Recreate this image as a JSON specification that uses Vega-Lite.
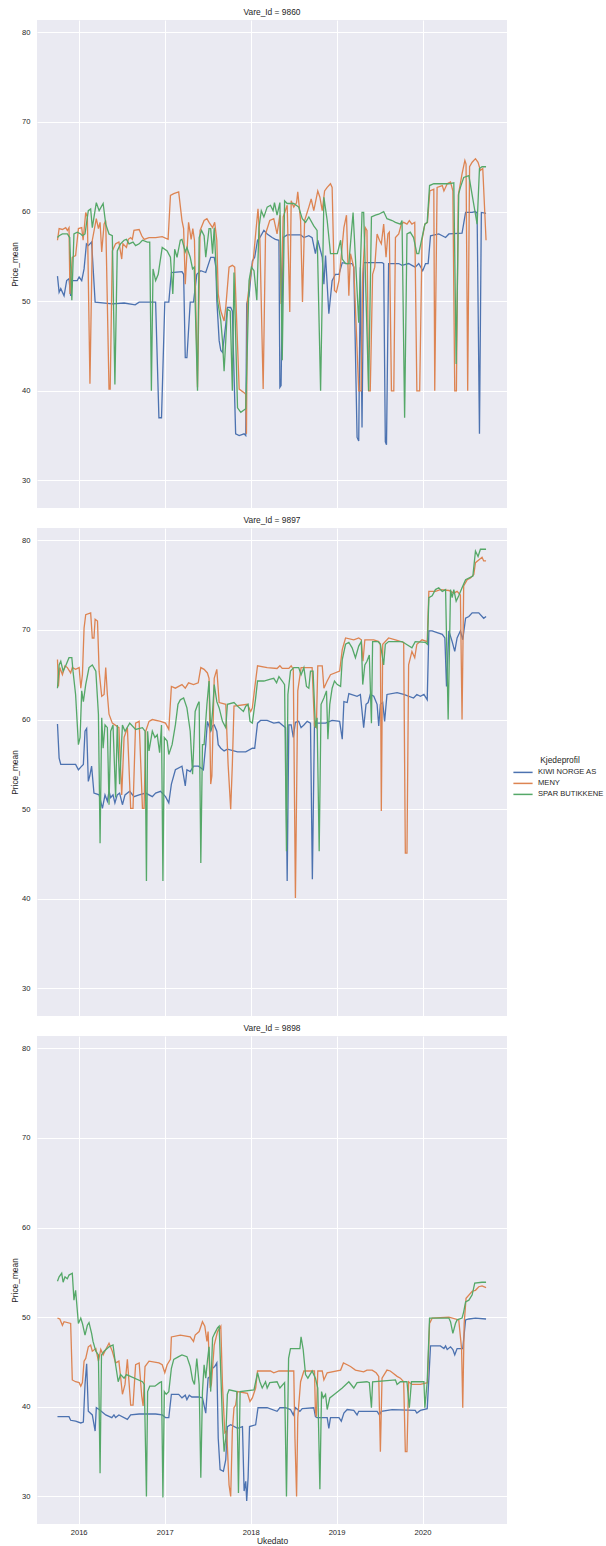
{
"$schema":"https://vega.github.io/schema/vega-lite/v6.json",
"background":"white",
"padding":{"left":10,"top":7,"right":0,"bottom":0},
"config":{
"font":"Liberation Sans",
"view":{"fill":"#EAEAF2","stroke":null},
"axis":{"domain":false,"ticks":false,"gridColor":"white","gridWidth":1,"labelFontSize":7.6,"labelColor":"#262626","titleFontSize":8.4,"titleFontWeight":"normal","titleColor":"#262626"},
"title":{"fontSize":8.4,"fontWeight":"normal","color":"#262626","offset":4},
"legend":{"orient":"none","legendX":479,"legendY":736,"titleFontSize":8.4,"titleFontWeight":"normal","titleColor":"#262626","labelFontSize":7.6,"labelColor":"#262626","symbolType":"M-1.6,0H1.6","symbolSize":144,"symbolStrokeWidth":1.5,"rowPadding":0,"titleAnchor":"middle","titlePadding":1,"labelOffset":8},
"concat":{"spacing":7}
},
"datasets":{
"k9860":[{"d":"2015-10-03","v":52.8},{"d":"2015-10-10","v":51.0},{"d":"2015-10-17","v":51.4},{"d":"2015-10-31","v":50.6},{"d":"2015-11-11","v":52.3},{"d":"2015-11-21","v":52.5},{"d":"2015-11-28","v":50.6},{"d":"2015-12-05","v":52.3},{"d":"2015-12-26","v":52.3},{"d":"2016-01-03","v":52.7},{"d":"2016-01-14","v":52.3},{"d":"2016-01-24","v":53.6},{"d":"2016-02-03","v":56.4},{"d":"2016-02-11","v":56.2},{"d":"2016-02-25","v":56.6},{"d":"2016-03-11","v":49.9},{"d":"2016-05-23","v":49.7},{"d":"2016-07-12","v":49.8},{"d":"2016-08-28","v":49.6},{"d":"2016-09-14","v":49.9},{"d":"2016-11-23","v":49.9},{"d":"2016-12-07","v":37.0},{"d":"2016-12-18","v":37.0},{"d":"2017-01-01","v":49.9},{"d":"2017-01-18","v":49.9},{"d":"2017-01-29","v":53.2},{"d":"2017-03-15","v":53.3},{"d":"2017-03-22","v":53.0},{"d":"2017-03-29","v":43.7},{"d":"2017-04-05","v":43.7},{"d":"2017-04-19","v":49.9},{"d":"2017-05-03","v":49.9},{"d":"2017-05-17","v":53.0},{"d":"2017-06-03","v":53.4},{"d":"2017-06-24","v":53.2},{"d":"2017-07-15","v":54.9},{"d":"2017-07-30","v":54.9},{"d":"2017-08-06","v":53.8},{"d":"2017-08-10","v":50.1},{"d":"2017-08-20","v":45.6},{"d":"2017-08-27","v":44.5},{"d":"2017-09-03","v":44.3},{"d":"2017-09-17","v":47.4},{"d":"2017-09-24","v":49.3},{"d":"2017-10-08","v":49.3},{"d":"2017-10-15","v":48.9},{"d":"2017-10-29","v":35.2},{"d":"2017-11-13","v":35.0},{"d":"2017-12-04","v":35.2},{"d":"2017-12-11","v":35.0},{"d":"2017-12-15","v":49.7},{"d":"2017-12-25","v":50.6},{"d":"2018-01-08","v":54.5},{"d":"2018-01-18","v":54.9},{"d":"2018-01-30","v":56.8},{"d":"2018-02-09","v":57.1},{"d":"2018-02-26","v":57.9},{"d":"2018-03-12","v":57.5},{"d":"2018-04-02","v":57.1},{"d":"2018-04-16","v":56.9},{"d":"2018-05-01","v":56.8},{"d":"2018-05-05","v":40.4},{"d":"2018-05-10","v":40.6},{"d":"2018-05-19","v":57.1},{"d":"2018-06-05","v":57.4},{"d":"2018-08-01","v":57.4},{"d":"2018-08-15","v":57.1},{"d":"2018-09-05","v":57.3},{"d":"2018-09-19","v":57.1},{"d":"2018-10-03","v":55.3},{"d":"2018-10-13","v":56.8},{"d":"2018-11-01","v":54.9},{"d":"2018-11-08","v":51.9},{"d":"2018-11-15","v":55.1},{"d":"2018-11-29","v":48.6},{"d":"2018-12-13","v":52.3},{"d":"2018-12-27","v":53.0},{"d":"2019-01-11","v":53.0},{"d":"2019-01-25","v":54.3},{"d":"2019-02-15","v":54.2},{"d":"2019-03-08","v":54.2},{"d":"2019-03-15","v":53.8},{"d":"2019-03-29","v":34.8},{"d":"2019-04-05","v":34.4},{"d":"2019-04-12","v":53.8},{"d":"2019-04-19","v":35.9},{"d":"2019-04-26","v":54.3},{"d":"2019-07-13","v":54.3},{"d":"2019-07-20","v":54.2},{"d":"2019-07-27","v":34.3},{"d":"2019-08-01","v":34.0},{"d":"2019-08-10","v":54.2},{"d":"2019-09-22","v":54.2},{"d":"2019-10-06","v":54.0},{"d":"2019-11-03","v":54.2},{"d":"2019-11-17","v":54.0},{"d":"2019-12-01","v":53.8},{"d":"2019-12-16","v":54.2},{"d":"2020-01-02","v":53.4},{"d":"2020-01-14","v":54.2},{"d":"2020-01-25","v":54.2},{"d":"2020-02-04","v":57.3},{"d":"2020-03-10","v":57.5},{"d":"2020-03-25","v":57.3},{"d":"2020-04-08","v":57.1},{"d":"2020-04-22","v":57.5},{"d":"2020-06-17","v":57.6},{"d":"2020-07-02","v":59.9},{"d":"2020-07-30","v":59.9},{"d":"2020-08-13","v":60.0},{"d":"2020-08-20","v":59.8},{"d":"2020-08-30","v":35.2},{"d":"2020-09-07","v":59.9},{"d":"2020-09-27","v":59.8}],
"m9860":[{"d":"2015-10-03","v":56.8},{"d":"2015-10-10","v":58.1},{"d":"2015-10-24","v":58.0},{"d":"2015-11-07","v":58.2},{"d":"2015-11-14","v":57.9},{"d":"2015-11-21","v":58.2},{"d":"2015-11-25","v":50.8},{"d":"2015-12-05","v":54.9},{"d":"2015-12-19","v":55.1},{"d":"2015-12-31","v":58.1},{"d":"2016-01-14","v":58.2},{"d":"2016-01-20","v":56.8},{"d":"2016-01-31","v":59.9},{"d":"2016-02-07","v":59.4},{"d":"2016-02-18","v":40.8},{"d":"2016-02-28","v":56.8},{"d":"2016-03-16","v":59.2},{"d":"2016-03-25","v":58.1},{"d":"2016-04-01","v":58.8},{"d":"2016-04-08","v":55.5},{"d":"2016-04-18","v":58.6},{"d":"2016-04-25","v":59.0},{"d":"2016-05-09","v":40.2},{"d":"2016-05-14","v":40.2},{"d":"2016-05-23","v":55.6},{"d":"2016-06-06","v":56.4},{"d":"2016-06-20","v":56.6},{"d":"2016-07-02","v":54.7},{"d":"2016-07-07","v":56.4},{"d":"2016-07-22","v":56.0},{"d":"2016-07-30","v":56.9},{"d":"2016-08-09","v":57.1},{"d":"2016-08-16","v":56.9},{"d":"2016-08-23","v":57.9},{"d":"2016-09-14","v":58.0},{"d":"2016-09-25","v":57.3},{"d":"2016-10-05","v":56.9},{"d":"2016-10-26","v":57.1},{"d":"2016-11-23","v":57.1},{"d":"2016-12-21","v":57.2},{"d":"2017-01-15","v":56.9},{"d":"2017-01-25","v":61.8},{"d":"2017-02-08","v":62.0},{"d":"2017-03-01","v":62.2},{"d":"2017-03-15","v":59.0},{"d":"2017-03-22","v":58.1},{"d":"2017-03-29","v":51.9},{"d":"2017-04-12","v":58.8},{"d":"2017-04-23","v":56.9},{"d":"2017-04-30","v":58.1},{"d":"2017-05-07","v":56.8},{"d":"2017-05-20","v":40.4},{"d":"2017-05-31","v":57.9},{"d":"2017-06-17","v":59.0},{"d":"2017-06-29","v":59.2},{"d":"2017-07-08","v":58.8},{"d":"2017-07-23","v":58.2},{"d":"2017-08-01","v":58.8},{"d":"2017-08-10","v":56.8},{"d":"2017-08-16","v":50.8},{"d":"2017-08-27","v":48.9},{"d":"2017-09-10","v":47.8},{"d":"2017-09-17","v":49.3},{"d":"2017-10-01","v":53.8},{"d":"2017-10-15","v":54.0},{"d":"2017-10-25","v":53.8},{"d":"2017-11-13","v":40.2},{"d":"2017-12-04","v":39.8},{"d":"2017-12-11","v":39.6},{"d":"2017-12-14","v":35.2},{"d":"2017-12-18","v":50.1},{"d":"2018-01-01","v":53.0},{"d":"2018-01-13","v":54.9},{"d":"2018-01-22","v":57.5},{"d":"2018-02-01","v":60.3},{"d":"2018-02-09","v":56.8},{"d":"2018-02-23","v":40.2},{"d":"2018-03-05","v":57.5},{"d":"2018-03-23","v":59.0},{"d":"2018-04-09","v":59.2},{"d":"2018-04-23","v":57.5},{"d":"2018-05-05","v":59.6},{"d":"2018-05-10","v":49.7},{"d":"2018-05-19","v":59.4},{"d":"2018-06-05","v":60.7},{"d":"2018-06-16","v":48.8},{"d":"2018-06-22","v":61.2},{"d":"2018-07-03","v":60.5},{"d":"2018-07-15","v":61.0},{"d":"2018-07-20","v":62.2},{"d":"2018-08-01","v":59.0},{"d":"2018-08-09","v":49.9},{"d":"2018-08-18","v":59.0},{"d":"2018-09-05","v":60.5},{"d":"2018-09-15","v":61.4},{"d":"2018-09-26","v":60.1},{"d":"2018-10-13","v":62.3},{"d":"2018-10-22","v":61.6},{"d":"2018-11-01","v":60.1},{"d":"2018-11-11","v":62.3},{"d":"2018-11-22","v":62.7},{"d":"2018-12-06","v":63.1},{"d":"2018-12-13","v":62.7},{"d":"2018-12-23","v":51.2},{"d":"2018-12-31","v":51.0},{"d":"2019-01-11","v":52.3},{"d":"2019-02-01","v":58.2},{"d":"2019-02-12","v":59.6},{"d":"2019-02-22","v":50.6},{"d":"2019-03-01","v":55.3},{"d":"2019-03-15","v":53.8},{"d":"2019-04-05","v":40.0},{"d":"2019-04-15","v":40.0},{"d":"2019-04-22","v":53.0},{"d":"2019-05-03","v":58.2},{"d":"2019-05-10","v":57.9},{"d":"2019-05-17","v":40.0},{"d":"2019-05-24","v":40.0},{"d":"2019-06-03","v":53.0},{"d":"2019-06-12","v":53.8},{"d":"2019-06-22","v":57.5},{"d":"2019-07-02","v":56.8},{"d":"2019-07-10","v":56.4},{"d":"2019-07-20","v":58.6},{"d":"2019-07-30","v":54.9},{"d":"2019-08-07","v":57.5},{"d":"2019-08-13","v":57.7},{"d":"2019-08-22","v":40.0},{"d":"2019-09-01","v":40.0},{"d":"2019-09-08","v":57.1},{"d":"2019-09-22","v":57.5},{"d":"2019-10-03","v":58.6},{"d":"2019-10-13","v":58.8},{"d":"2019-10-27","v":58.6},{"d":"2019-11-06","v":59.0},{"d":"2019-11-17","v":58.6},{"d":"2019-11-29","v":58.8},{"d":"2019-12-08","v":40.0},{"d":"2019-12-20","v":40.0},{"d":"2019-12-30","v":56.8},{"d":"2020-01-11","v":58.6},{"d":"2020-01-22","v":58.8},{"d":"2020-02-01","v":62.3},{"d":"2020-02-18","v":62.5},{"d":"2020-02-22","v":40.0},{"d":"2020-03-03","v":62.7},{"d":"2020-03-25","v":62.9},{"d":"2020-04-01","v":62.3},{"d":"2020-04-15","v":63.1},{"d":"2020-04-29","v":63.3},{"d":"2020-05-09","v":62.3},{"d":"2020-05-17","v":40.0},{"d":"2020-05-24","v":40.0},{"d":"2020-06-01","v":61.8},{"d":"2020-06-17","v":64.2},{"d":"2020-06-29","v":65.7},{"d":"2020-07-04","v":65.3},{"d":"2020-07-11","v":40.0},{"d":"2020-07-19","v":65.0},{"d":"2020-07-30","v":65.5},{"d":"2020-08-13","v":65.9},{"d":"2020-08-24","v":65.5},{"d":"2020-09-03","v":64.6},{"d":"2020-09-13","v":64.8},{"d":"2020-09-27","v":56.8}],
"s9860":[{"d":"2015-10-03","v":57.1},{"d":"2015-10-10","v":57.3},{"d":"2015-10-24","v":57.5},{"d":"2015-11-14","v":57.5},{"d":"2015-11-24","v":57.1},{"d":"2015-12-03","v":50.1},{"d":"2015-12-12","v":57.5},{"d":"2015-12-26","v":57.7},{"d":"2016-01-10","v":57.5},{"d":"2016-01-17","v":57.3},{"d":"2016-01-28","v":57.5},{"d":"2016-02-11","v":60.1},{"d":"2016-02-21","v":60.3},{"d":"2016-02-28","v":58.2},{"d":"2016-03-16","v":61.0},{"d":"2016-03-28","v":60.1},{"d":"2016-04-14","v":60.9},{"d":"2016-04-25","v":58.6},{"d":"2016-05-09","v":57.5},{"d":"2016-05-23","v":57.3},{"d":"2016-06-03","v":40.7},{"d":"2016-06-13","v":55.6},{"d":"2016-06-27","v":56.4},{"d":"2016-07-12","v":56.8},{"d":"2016-07-22","v":56.9},{"d":"2016-08-02","v":56.4},{"d":"2016-08-19","v":56.6},{"d":"2016-08-30","v":56.2},{"d":"2016-09-14","v":56.4},{"d":"2016-09-28","v":56.8},{"d":"2016-10-19","v":56.6},{"d":"2016-10-29","v":56.6},{"d":"2016-11-05","v":40.0},{"d":"2016-11-12","v":53.6},{"d":"2016-11-23","v":52.3},{"d":"2016-12-04","v":53.0},{"d":"2016-12-21","v":56.0},{"d":"2017-01-11","v":55.6},{"d":"2017-01-25","v":54.9},{"d":"2017-02-04","v":50.8},{"d":"2017-02-12","v":55.8},{"d":"2017-02-22","v":54.9},{"d":"2017-03-08","v":56.8},{"d":"2017-03-15","v":56.9},{"d":"2017-03-29","v":55.5},{"d":"2017-04-05","v":56.0},{"d":"2017-04-19","v":54.9},{"d":"2017-04-29","v":53.6},{"d":"2017-05-06","v":53.8},{"d":"2017-05-20","v":40.0},{"d":"2017-05-27","v":57.1},{"d":"2017-06-06","v":57.9},{"d":"2017-06-17","v":57.3},{"d":"2017-06-24","v":54.9},{"d":"2017-07-08","v":58.1},{"d":"2017-07-15","v":58.1},{"d":"2017-07-23","v":55.3},{"d":"2017-07-30","v":58.2},{"d":"2017-08-13","v":50.1},{"d":"2017-08-27","v":47.8},{"d":"2017-09-03","v":45.6},{"d":"2017-09-10","v":42.2},{"d":"2017-09-17","v":45.6},{"d":"2017-09-24","v":49.1},{"d":"2017-10-06","v":48.9},{"d":"2017-10-15","v":40.0},{"d":"2017-10-22","v":53.2},{"d":"2017-11-06","v":38.1},{"d":"2017-11-20","v":37.6},{"d":"2017-12-11","v":38.0},{"d":"2017-12-25","v":52.3},{"d":"2018-01-04","v":53.8},{"d":"2018-01-15","v":53.4},{"d":"2018-01-27","v":50.1},{"d":"2018-02-05","v":58.2},{"d":"2018-02-15","v":60.1},{"d":"2018-02-26","v":59.4},{"d":"2018-03-12","v":60.5},{"d":"2018-03-26","v":60.7},{"d":"2018-04-06","v":60.1},{"d":"2018-04-12","v":61.0},{"d":"2018-04-23","v":59.6},{"d":"2018-05-05","v":61.0},{"d":"2018-05-15","v":43.4},{"d":"2018-05-25","v":61.2},{"d":"2018-06-05","v":60.9},{"d":"2018-07-03","v":60.9},{"d":"2018-07-24","v":60.5},{"d":"2018-08-08","v":59.2},{"d":"2018-08-22","v":58.8},{"d":"2018-09-05","v":59.4},{"d":"2018-09-26","v":58.4},{"d":"2018-10-10","v":57.9},{"d":"2018-10-25","v":40.0},{"d":"2018-11-08","v":61.6},{"d":"2018-11-22","v":59.0},{"d":"2018-12-06","v":55.3},{"d":"2019-01-04","v":55.3},{"d":"2019-01-18","v":56.8},{"d":"2019-01-25","v":54.7},{"d":"2019-02-08","v":54.2},{"d":"2019-02-22","v":54.2},{"d":"2019-03-12","v":59.9},{"d":"2019-04-05","v":47.6},{"d":"2019-04-19","v":59.9},{"d":"2019-04-26","v":59.9},{"d":"2019-05-17","v":40.0},{"d":"2019-05-29","v":59.4},{"d":"2019-06-15","v":59.6},{"d":"2019-06-29","v":59.7},{"d":"2019-07-20","v":60.0},{"d":"2019-08-03","v":59.2},{"d":"2019-08-25","v":59.0},{"d":"2019-09-08","v":58.8},{"d":"2019-09-29","v":58.6},{"d":"2019-10-06","v":59.0},{"d":"2019-10-17","v":37.0},{"d":"2019-10-27","v":57.5},{"d":"2019-11-10","v":57.7},{"d":"2019-11-24","v":57.1},{"d":"2019-12-08","v":55.3},{"d":"2019-12-16","v":55.3},{"d":"2019-12-30","v":57.1},{"d":"2020-01-11","v":58.6},{"d":"2020-01-21","v":58.8},{"d":"2020-01-31","v":62.9},{"d":"2020-02-18","v":63.1},{"d":"2020-04-22","v":63.1},{"d":"2020-05-13","v":63.2},{"d":"2020-05-23","v":43.0},{"d":"2020-06-03","v":62.0},{"d":"2020-06-10","v":62.7},{"d":"2020-06-24","v":63.8},{"d":"2020-07-16","v":64.0},{"d":"2020-08-20","v":58.6},{"d":"2020-08-30","v":64.8},{"d":"2020-09-10","v":65.0},{"d":"2020-09-27","v":65.0}],
"k9897":[{"d":"2015-10-03","v":59.5},{"d":"2015-10-10","v":55.7},{"d":"2015-10-17","v":55.0},{"d":"2015-12-19","v":55.0},{"d":"2015-12-31","v":54.4},{"d":"2016-01-10","v":54.7},{"d":"2016-01-21","v":55.0},{"d":"2016-01-28","v":58.7},{"d":"2016-02-04","v":59.0},{"d":"2016-02-11","v":53.1},{"d":"2016-02-17","v":53.7},{"d":"2016-02-25","v":54.8},{"d":"2016-03-06","v":51.8},{"d":"2016-03-28","v":51.6},{"d":"2016-04-11","v":50.1},{"d":"2016-04-22","v":51.6},{"d":"2016-05-02","v":50.9},{"d":"2016-05-09","v":52.0},{"d":"2016-05-16","v":51.3},{"d":"2016-05-26","v":51.6},{"d":"2016-06-03","v":50.7},{"d":"2016-06-13","v":51.6},{"d":"2016-06-23","v":51.8},{"d":"2016-07-05","v":50.5},{"d":"2016-07-16","v":51.6},{"d":"2016-08-05","v":52.0},{"d":"2016-08-23","v":51.4},{"d":"2016-09-14","v":51.6},{"d":"2016-10-12","v":51.8},{"d":"2016-11-09","v":51.4},{"d":"2016-11-23","v":51.8},{"d":"2016-12-14","v":52.0},{"d":"2017-01-04","v":51.4},{"d":"2017-01-18","v":50.7},{"d":"2017-01-29","v":52.8},{"d":"2017-02-15","v":54.4},{"d":"2017-03-15","v":54.8},{"d":"2017-03-29","v":52.6},{"d":"2017-04-05","v":54.4},{"d":"2017-04-19","v":54.2},{"d":"2017-05-03","v":54.8},{"d":"2017-05-24","v":54.8},{"d":"2017-06-14","v":54.4},{"d":"2017-06-24","v":57.2},{"d":"2017-07-01","v":59.8},{"d":"2017-07-15","v":58.7},{"d":"2017-07-23","v":59.3},{"d":"2017-07-30","v":59.4},{"d":"2017-08-10","v":58.7},{"d":"2017-08-16","v":57.2},{"d":"2017-08-27","v":56.8},{"d":"2017-09-10","v":56.5},{"d":"2017-09-24","v":56.7},{"d":"2017-11-06","v":56.4},{"d":"2017-12-11","v":56.4},{"d":"2018-01-08","v":56.8},{"d":"2018-01-18","v":56.8},{"d":"2018-01-30","v":59.6},{"d":"2018-02-12","v":59.9},{"d":"2018-03-12","v":59.9},{"d":"2018-04-09","v":59.6},{"d":"2018-05-01","v":59.7},{"d":"2018-05-15","v":59.4},{"d":"2018-05-29","v":59.1},{"d":"2018-06-05","v":42.0},{"d":"2018-06-12","v":59.4},{"d":"2018-06-22","v":59.4},{"d":"2018-07-01","v":58.0},{"d":"2018-07-10","v":59.7},{"d":"2018-07-24","v":59.8},{"d":"2018-08-03","v":59.1},{"d":"2018-08-15","v":59.4},{"d":"2018-08-29","v":59.8},{"d":"2018-09-12","v":59.6},{"d":"2018-09-20","v":42.2},{"d":"2018-09-29","v":59.6},{"d":"2018-11-15","v":59.6},{"d":"2018-12-13","v":59.9},{"d":"2019-01-14","v":59.8},{"d":"2019-01-25","v":57.8},{"d":"2019-02-01","v":62.0},{"d":"2019-02-15","v":61.9},{"d":"2019-02-22","v":62.9},{"d":"2019-03-29","v":62.6},{"d":"2019-04-12","v":62.8},{"d":"2019-04-26","v":59.1},{"d":"2019-05-06","v":61.7},{"d":"2019-05-15","v":61.9},{"d":"2019-05-24","v":62.8},{"d":"2019-06-08","v":62.6},{"d":"2019-06-22","v":61.7},{"d":"2019-06-29","v":59.3},{"d":"2019-07-06","v":61.7},{"d":"2019-07-16","v":61.9},{"d":"2019-07-24","v":59.8},{"d":"2019-08-03","v":62.8},{"d":"2019-09-15","v":63.0},{"d":"2019-10-13","v":62.8},{"d":"2019-11-24","v":62.4},{"d":"2019-12-08","v":62.8},{"d":"2019-12-23","v":62.6},{"d":"2020-01-07","v":62.8},{"d":"2020-01-21","v":62.2},{"d":"2020-01-28","v":69.9},{"d":"2020-02-11","v":69.9},{"d":"2020-03-03","v":69.7},{"d":"2020-03-25","v":69.5},{"d":"2020-04-05","v":69.1},{"d":"2020-04-12","v":63.7},{"d":"2020-04-22","v":69.9},{"d":"2020-05-06","v":68.7},{"d":"2020-05-17","v":67.6},{"d":"2020-05-27","v":69.1},{"d":"2020-06-10","v":69.9},{"d":"2020-06-20","v":68.9},{"d":"2020-07-02","v":71.3},{"d":"2020-07-16","v":71.5},{"d":"2020-07-30","v":71.9},{"d":"2020-08-27","v":71.9},{"d":"2020-09-17","v":71.3},{"d":"2020-09-27","v":71.5}],
"m9897":[{"d":"2015-10-03","v":66.7},{"d":"2015-10-07","v":63.7},{"d":"2015-10-13","v":65.8},{"d":"2015-10-24","v":65.0},{"d":"2015-11-04","v":66.0},{"d":"2015-11-14","v":65.8},{"d":"2015-11-28","v":65.2},{"d":"2015-12-05","v":65.8},{"d":"2015-12-19","v":65.6},{"d":"2016-01-03","v":65.8},{"d":"2016-01-10","v":63.5},{"d":"2016-01-17","v":65.0},{"d":"2016-01-24","v":70.2},{"d":"2016-01-31","v":71.7},{"d":"2016-02-21","v":71.9},{"d":"2016-02-28","v":69.1},{"d":"2016-03-06","v":69.1},{"d":"2016-03-11","v":71.2},{"d":"2016-03-21","v":71.0},{"d":"2016-03-28","v":65.4},{"d":"2016-04-08","v":62.6},{"d":"2016-04-18","v":62.8},{"d":"2016-04-25","v":65.8},{"d":"2016-05-02","v":62.8},{"d":"2016-05-09","v":60.6},{"d":"2016-05-23","v":59.6},{"d":"2016-06-20","v":59.1},{"d":"2016-07-02","v":51.6},{"d":"2016-07-12","v":58.0},{"d":"2016-07-26","v":59.1},{"d":"2016-08-09","v":50.1},{"d":"2016-08-19","v":50.1},{"d":"2016-08-30","v":59.6},{"d":"2016-09-14","v":59.8},{"d":"2016-09-28","v":50.1},{"d":"2016-10-05","v":50.1},{"d":"2016-10-12","v":58.7},{"d":"2016-10-26","v":59.8},{"d":"2016-11-09","v":60.0},{"d":"2016-12-14","v":59.8},{"d":"2017-01-04","v":59.6},{"d":"2017-01-18","v":58.9},{"d":"2017-01-29","v":63.7},{"d":"2017-02-15","v":63.5},{"d":"2017-03-01","v":63.7},{"d":"2017-03-15","v":63.9},{"d":"2017-03-29","v":63.5},{"d":"2017-04-12","v":64.1},{"d":"2017-05-03","v":63.9},{"d":"2017-05-23","v":64.1},{"d":"2017-06-03","v":65.8},{"d":"2017-06-17","v":65.6},{"d":"2017-07-01","v":65.2},{"d":"2017-07-08","v":64.6},{"d":"2017-07-15","v":52.8},{"d":"2017-07-20","v":53.7},{"d":"2017-07-30","v":64.6},{"d":"2017-08-10","v":65.6},{"d":"2017-08-20","v":61.9},{"d":"2017-09-17","v":61.7},{"d":"2017-09-27","v":55.0},{"d":"2017-10-08","v":50.0},{"d":"2017-10-15","v":55.0},{"d":"2017-10-22","v":61.5},{"d":"2017-12-18","v":61.7},{"d":"2018-01-01","v":60.9},{"d":"2018-01-08","v":61.3},{"d":"2018-01-18","v":63.5},{"d":"2018-01-30","v":66.0},{"d":"2018-03-12","v":65.8},{"d":"2018-04-23","v":65.7},{"d":"2018-05-05","v":66.0},{"d":"2018-05-15","v":65.7},{"d":"2018-06-12","v":65.7},{"d":"2018-06-22","v":66.0},{"d":"2018-07-01","v":65.6},{"d":"2018-07-10","v":40.1},{"d":"2018-07-20","v":63.2},{"d":"2018-08-03","v":65.8},{"d":"2018-09-19","v":65.8},{"d":"2018-09-29","v":59.3},{"d":"2018-10-07","v":59.1},{"d":"2018-10-13","v":66.0},{"d":"2018-11-01","v":66.0},{"d":"2018-11-08","v":63.5},{"d":"2018-11-22","v":64.3},{"d":"2018-12-06","v":65.0},{"d":"2019-01-14","v":65.4},{"d":"2019-01-25","v":67.8},{"d":"2019-02-08","v":69.1},{"d":"2019-03-15","v":68.9},{"d":"2019-04-05","v":69.1},{"d":"2019-04-16","v":68.9},{"d":"2019-04-23","v":66.5},{"d":"2019-05-01","v":68.9},{"d":"2019-06-08","v":68.9},{"d":"2019-06-29","v":68.7},{"d":"2019-07-06","v":68.4},{"d":"2019-07-10","v":49.8},{"d":"2019-07-16","v":68.4},{"d":"2019-08-10","v":69.1},{"d":"2019-09-08","v":68.9},{"d":"2019-10-13","v":68.6},{"d":"2019-10-20","v":45.1},{"d":"2019-10-27","v":45.1},{"d":"2019-11-03","v":66.1},{"d":"2019-11-17","v":67.6},{"d":"2019-11-29","v":66.9},{"d":"2019-12-08","v":68.4},{"d":"2019-12-30","v":68.9},{"d":"2020-01-21","v":68.7},{"d":"2020-01-28","v":74.3},{"d":"2020-02-25","v":74.3},{"d":"2020-03-17","v":74.5},{"d":"2020-04-22","v":74.4},{"d":"2020-05-13","v":74.1},{"d":"2020-05-27","v":74.3},{"d":"2020-06-10","v":73.9},{"d":"2020-06-17","v":60.0},{"d":"2020-06-24","v":74.9},{"d":"2020-07-09","v":75.6},{"d":"2020-07-23","v":75.8},{"d":"2020-08-06","v":76.2},{"d":"2020-08-13","v":77.5},{"d":"2020-08-27","v":77.8},{"d":"2020-09-10","v":78.1},{"d":"2020-09-17","v":77.7},{"d":"2020-09-27","v":77.7}],
"s9897":[{"d":"2015-10-03","v":63.5},{"d":"2015-10-10","v":66.1},{"d":"2015-10-17","v":66.5},{"d":"2015-10-27","v":65.4},{"d":"2015-11-07","v":66.0},{"d":"2015-11-21","v":66.9},{"d":"2015-12-03","v":66.9},{"d":"2015-12-08","v":65.4},{"d":"2015-12-19","v":62.8},{"d":"2015-12-31","v":57.2},{"d":"2016-01-07","v":58.0},{"d":"2016-01-14","v":63.2},{"d":"2016-01-21","v":62.0},{"d":"2016-01-31","v":63.9},{"d":"2016-02-14","v":65.8},{"d":"2016-02-28","v":66.1},{"d":"2016-03-14","v":65.4},{"d":"2016-03-25","v":60.6},{"d":"2016-04-01","v":46.2},{"d":"2016-04-08","v":60.2},{"d":"2016-04-14","v":56.8},{"d":"2016-04-22","v":59.4},{"d":"2016-05-02","v":59.1},{"d":"2016-05-09","v":50.5},{"d":"2016-05-16","v":58.7},{"d":"2016-05-26","v":59.4},{"d":"2016-06-06","v":51.3},{"d":"2016-06-13","v":59.4},{"d":"2016-06-23","v":52.8},{"d":"2016-07-05","v":59.4},{"d":"2016-07-16","v":58.7},{"d":"2016-08-05","v":59.6},{"d":"2016-08-30","v":58.9},{"d":"2016-09-28","v":59.1},{"d":"2016-10-09","v":58.7},{"d":"2016-10-15","v":42.0},{"d":"2016-10-20","v":58.7},{"d":"2016-10-26","v":56.5},{"d":"2016-11-09","v":58.7},{"d":"2016-11-20","v":58.0},{"d":"2016-11-30","v":58.3},{"d":"2016-12-10","v":56.3},{"d":"2016-12-18","v":59.4},{"d":"2016-12-24","v":42.0},{"d":"2016-12-30","v":58.0},{"d":"2017-01-11","v":57.6},{"d":"2017-01-18","v":56.1},{"d":"2017-02-01","v":57.2},{"d":"2017-02-15","v":59.4},{"d":"2017-02-26","v":61.7},{"d":"2017-03-08","v":62.2},{"d":"2017-03-22","v":62.4},{"d":"2017-04-05","v":61.3},{"d":"2017-04-19","v":58.7},{"d":"2017-04-29","v":53.9},{"d":"2017-05-10","v":60.9},{"d":"2017-05-21","v":61.7},{"d":"2017-05-27","v":62.0},{"d":"2017-06-03","v":44.0},{"d":"2017-06-10","v":57.2},{"d":"2017-06-17","v":57.2},{"d":"2017-06-29","v":61.7},{"d":"2017-07-08","v":64.3},{"d":"2017-07-15","v":58.7},{"d":"2017-07-23","v":60.9},{"d":"2017-07-30","v":63.9},{"d":"2017-08-10","v":62.0},{"d":"2017-08-20","v":61.3},{"d":"2017-09-03","v":59.8},{"d":"2017-09-17","v":59.1},{"d":"2017-09-24","v":61.7},{"d":"2017-10-22","v":61.9},{"d":"2017-11-06","v":61.5},{"d":"2017-12-01","v":60.9},{"d":"2017-12-11","v":61.5},{"d":"2017-12-21","v":61.7},{"d":"2017-12-29","v":59.8},{"d":"2018-01-08","v":59.6},{"d":"2018-01-22","v":62.4},{"d":"2018-01-30","v":64.3},{"d":"2018-02-26","v":64.3},{"d":"2018-03-26","v":64.5},{"d":"2018-04-09","v":64.6},{"d":"2018-04-21","v":64.1},{"d":"2018-05-01","v":64.8},{"d":"2018-05-15","v":64.3},{"d":"2018-05-25","v":63.9},{"d":"2018-06-02","v":45.3},{"d":"2018-06-08","v":62.8},{"d":"2018-06-19","v":65.4},{"d":"2018-07-03","v":65.8},{"d":"2018-07-24","v":65.8},{"d":"2018-08-03","v":65.0},{"d":"2018-08-15","v":65.8},{"d":"2018-08-26","v":63.7},{"d":"2018-09-05","v":63.5},{"d":"2018-09-12","v":65.4},{"d":"2018-09-23","v":65.4},{"d":"2018-10-03","v":59.1},{"d":"2018-10-10","v":60.2},{"d":"2018-10-19","v":45.3},{"d":"2018-10-27","v":61.7},{"d":"2018-11-08","v":62.4},{"d":"2018-11-19","v":63.2},{"d":"2018-11-25","v":57.8},{"d":"2018-12-03","v":61.7},{"d":"2018-12-13","v":63.5},{"d":"2018-12-23","v":64.3},{"d":"2019-01-04","v":63.9},{"d":"2019-01-18","v":63.7},{"d":"2019-01-25","v":66.7},{"d":"2019-02-08","v":68.4},{"d":"2019-02-22","v":68.6},{"d":"2019-03-08","v":68.0},{"d":"2019-03-22","v":66.9},{"d":"2019-04-05","v":68.2},{"d":"2019-04-16","v":68.7},{"d":"2019-04-22","v":63.9},{"d":"2019-05-01","v":66.1},{"d":"2019-05-10","v":66.5},{"d":"2019-05-20","v":67.2},{"d":"2019-05-29","v":59.6},{"d":"2019-06-03","v":68.7},{"d":"2019-06-26","v":68.7},{"d":"2019-07-06","v":68.4},{"d":"2019-07-20","v":66.1},{"d":"2019-07-27","v":68.4},{"d":"2019-08-10","v":68.7},{"d":"2019-10-06","v":68.7},{"d":"2019-11-17","v":68.0},{"d":"2019-12-01","v":68.7},{"d":"2020-01-14","v":68.6},{"d":"2020-01-22","v":68.4},{"d":"2020-01-28","v":73.6},{"d":"2020-02-11","v":73.8},{"d":"2020-02-25","v":74.5},{"d":"2020-03-10","v":74.7},{"d":"2020-03-25","v":74.3},{"d":"2020-04-08","v":74.5},{"d":"2020-04-19","v":60.0},{"d":"2020-04-29","v":74.5},{"d":"2020-05-06","v":73.6},{"d":"2020-05-13","v":74.5},{"d":"2020-05-23","v":73.2},{"d":"2020-06-03","v":73.8},{"d":"2020-06-17","v":74.7},{"d":"2020-07-02","v":75.6},{"d":"2020-08-02","v":76.0},{"d":"2020-08-13","v":78.8},{"d":"2020-08-24","v":78.2},{"d":"2020-09-03","v":79.0},{"d":"2020-09-27","v":79.0}],
"k9898":[{"d":"2015-10-03","v":38.9},{"d":"2015-11-21","v":38.9},{"d":"2015-11-28","v":38.5},{"d":"2015-12-19","v":38.4},{"d":"2016-01-10","v":38.2},{"d":"2016-01-21","v":38.3},{"d":"2016-01-28","v":42.5},{"d":"2016-02-04","v":44.8},{"d":"2016-02-11","v":39.5},{"d":"2016-02-28","v":39.1},{"d":"2016-03-11","v":37.3},{"d":"2016-03-16","v":39.9},{"d":"2016-03-28","v":39.7},{"d":"2016-04-25","v":39.1},{"d":"2016-05-21","v":38.8},{"d":"2016-05-30","v":39.1},{"d":"2016-06-06","v":38.8},{"d":"2016-06-20","v":39.1},{"d":"2016-07-26","v":38.6},{"d":"2016-08-09","v":39.1},{"d":"2016-09-14","v":39.2},{"d":"2016-11-23","v":39.2},{"d":"2016-12-21","v":39.1},{"d":"2017-01-04","v":38.8},{"d":"2017-01-18","v":38.8},{"d":"2017-01-29","v":41.4},{"d":"2017-03-01","v":41.4},{"d":"2017-03-15","v":41.0},{"d":"2017-03-29","v":41.3},{"d":"2017-04-05","v":40.8},{"d":"2017-04-15","v":41.3},{"d":"2017-04-26","v":41.1},{"d":"2017-05-24","v":41.1},{"d":"2017-06-10","v":41.0},{"d":"2017-06-24","v":39.3},{"d":"2017-07-04","v":43.2},{"d":"2017-07-13","v":43.4},{"d":"2017-07-23","v":44.3},{"d":"2017-08-01","v":44.5},{"d":"2017-08-10","v":44.9},{"d":"2017-08-16","v":36.5},{"d":"2017-08-24","v":33.0},{"d":"2017-09-07","v":32.8},{"d":"2017-09-17","v":34.1},{"d":"2017-09-24","v":37.8},{"d":"2017-10-08","v":38.0},{"d":"2017-11-06","v":37.6},{"d":"2017-11-27","v":37.8},{"d":"2017-12-04","v":30.6},{"d":"2017-12-11","v":31.7},{"d":"2017-12-15","v":29.5},{"d":"2017-12-21","v":32.1},{"d":"2017-12-27","v":37.8},{"d":"2018-01-22","v":38.0},{"d":"2018-02-01","v":39.9},{"d":"2018-03-12","v":39.9},{"d":"2018-04-23","v":39.5},{"d":"2018-05-05","v":39.9},{"d":"2018-05-29","v":39.9},{"d":"2018-06-19","v":39.7},{"d":"2018-07-01","v":39.1},{"d":"2018-07-10","v":39.9},{"d":"2018-07-29","v":39.5},{"d":"2018-08-08","v":39.8},{"d":"2018-09-26","v":39.9},{"d":"2018-10-03","v":38.9},{"d":"2018-10-10","v":38.8},{"d":"2018-11-22","v":38.8},{"d":"2018-11-29","v":37.6},{"d":"2018-12-06","v":38.8},{"d":"2019-01-11","v":38.8},{"d":"2019-01-21","v":38.4},{"d":"2019-02-01","v":39.3},{"d":"2019-02-15","v":39.7},{"d":"2019-03-15","v":39.6},{"d":"2019-03-29","v":39.1},{"d":"2019-04-05","v":39.5},{"d":"2019-06-22","v":39.5},{"d":"2019-07-02","v":39.1},{"d":"2019-07-10","v":39.5},{"d":"2019-08-25","v":39.7},{"d":"2019-12-01","v":39.6},{"d":"2019-12-08","v":39.3},{"d":"2019-12-23","v":39.6},{"d":"2020-01-21","v":39.8},{"d":"2020-01-28","v":43.2},{"d":"2020-02-04","v":46.8},{"d":"2020-03-17","v":46.8},{"d":"2020-04-01","v":46.5},{"d":"2020-04-08","v":46.8},{"d":"2020-04-15","v":46.4},{"d":"2020-04-29","v":46.7},{"d":"2020-05-09","v":46.4},{"d":"2020-05-17","v":45.8},{"d":"2020-05-27","v":46.5},{"d":"2020-06-20","v":46.5},{"d":"2020-07-02","v":49.7},{"d":"2020-07-16","v":49.8},{"d":"2020-08-13","v":49.9},{"d":"2020-09-27","v":49.8}],
"m9898":[{"d":"2015-10-03","v":49.9},{"d":"2015-10-13","v":49.8},{"d":"2015-10-24","v":49.1},{"d":"2015-10-31","v":49.5},{"d":"2015-11-28","v":49.3},{"d":"2015-12-05","v":43.0},{"d":"2015-12-19","v":42.8},{"d":"2016-01-03","v":42.7},{"d":"2016-01-10","v":42.3},{"d":"2016-01-17","v":42.7},{"d":"2016-01-24","v":45.1},{"d":"2016-01-31","v":45.4},{"d":"2016-02-11","v":46.7},{"d":"2016-02-21","v":46.9},{"d":"2016-02-28","v":46.2},{"d":"2016-03-14","v":46.5},{"d":"2016-03-25","v":45.1},{"d":"2016-04-04","v":46.4},{"d":"2016-04-14","v":45.8},{"d":"2016-04-25","v":46.4},{"d":"2016-05-09","v":47.1},{"d":"2016-05-23","v":46.2},{"d":"2016-06-06","v":44.9},{"d":"2016-06-20","v":45.1},{"d":"2016-07-05","v":41.4},{"d":"2016-07-16","v":42.5},{"d":"2016-07-26","v":45.3},{"d":"2016-08-09","v":40.2},{"d":"2016-08-19","v":40.2},{"d":"2016-08-30","v":44.7},{"d":"2016-09-14","v":44.9},{"d":"2016-09-25","v":41.2},{"d":"2016-10-01","v":40.1},{"d":"2016-10-09","v":44.5},{"d":"2016-10-26","v":45.1},{"d":"2016-12-07","v":44.9},{"d":"2016-12-21","v":44.7},{"d":"2017-01-01","v":43.8},{"d":"2017-01-11","v":44.7},{"d":"2017-01-25","v":45.3},{"d":"2017-01-29","v":47.8},{"d":"2017-03-08","v":48.0},{"d":"2017-04-19","v":47.8},{"d":"2017-05-03","v":47.3},{"d":"2017-05-10","v":48.0},{"d":"2017-05-27","v":48.4},{"d":"2017-06-10","v":49.5},{"d":"2017-06-20","v":49.0},{"d":"2017-06-29","v":47.3},{"d":"2017-07-04","v":48.4},{"d":"2017-07-13","v":42.1},{"d":"2017-07-18","v":42.5},{"d":"2017-07-30","v":46.9},{"d":"2017-08-13","v":48.4},{"d":"2017-08-27","v":49.0},{"d":"2017-09-03","v":42.5},{"d":"2017-09-13","v":37.1},{"d":"2017-09-21","v":37.3},{"d":"2017-10-01","v":31.3},{"d":"2017-10-08","v":30.0},{"d":"2017-10-15","v":37.3},{"d":"2017-10-22","v":39.9},{"d":"2017-10-29","v":40.2},{"d":"2017-11-06","v":41.7},{"d":"2017-12-18","v":41.5},{"d":"2017-12-29","v":40.6},{"d":"2018-01-08","v":41.0},{"d":"2018-01-22","v":42.1},{"d":"2018-01-30","v":44.0},{"d":"2018-03-26","v":44.0},{"d":"2018-04-09","v":43.8},{"d":"2018-05-01","v":44.0},{"d":"2018-07-03","v":44.0},{"d":"2018-07-08","v":36.5},{"d":"2018-07-15","v":30.0},{"d":"2018-07-20","v":38.8},{"d":"2018-08-01","v":42.8},{"d":"2018-08-15","v":44.0},{"d":"2018-09-29","v":44.0},{"d":"2018-10-03","v":39.5},{"d":"2018-10-07","v":38.9},{"d":"2018-10-13","v":44.0},{"d":"2018-11-01","v":44.0},{"d":"2018-11-08","v":43.0},{"d":"2018-11-22","v":43.8},{"d":"2019-01-18","v":44.1},{"d":"2019-01-30","v":44.9},{"d":"2019-02-15","v":44.7},{"d":"2019-03-01","v":44.5},{"d":"2019-03-22","v":44.1},{"d":"2019-04-26","v":43.9},{"d":"2019-05-10","v":44.1},{"d":"2019-06-01","v":44.1},{"d":"2019-06-18","v":43.8},{"d":"2019-06-29","v":43.4},{"d":"2019-07-06","v":35.0},{"d":"2019-07-13","v":43.2},{"d":"2019-08-03","v":44.1},{"d":"2019-08-17","v":44.0},{"d":"2019-09-01","v":43.7},{"d":"2019-09-15","v":43.4},{"d":"2019-09-29","v":43.2},{"d":"2019-10-13","v":42.8},{"d":"2019-10-20","v":35.0},{"d":"2019-10-27","v":35.0},{"d":"2019-11-03","v":42.8},{"d":"2019-11-17","v":42.5},{"d":"2019-12-23","v":42.5},{"d":"2020-01-22","v":42.7},{"d":"2020-01-31","v":49.3},{"d":"2020-02-11","v":49.9},{"d":"2020-04-22","v":50.0},{"d":"2020-06-03","v":49.7},{"d":"2020-06-15","v":46.5},{"d":"2020-06-20","v":39.9},{"d":"2020-06-26","v":49.3},{"d":"2020-07-04","v":52.1},{"d":"2020-07-30","v":52.9},{"d":"2020-08-13","v":53.0},{"d":"2020-08-27","v":53.4},{"d":"2020-09-10","v":53.5},{"d":"2020-09-27","v":53.3}],
"s9898":[{"d":"2015-10-03","v":54.0},{"d":"2015-10-10","v":54.5},{"d":"2015-10-21","v":54.9},{"d":"2015-10-27","v":53.9},{"d":"2015-11-04","v":54.5},{"d":"2015-11-14","v":54.3},{"d":"2015-11-21","v":54.7},{"d":"2015-12-05","v":54.9},{"d":"2015-12-12","v":51.9},{"d":"2015-12-19","v":53.0},{"d":"2015-12-31","v":49.3},{"d":"2016-01-10","v":49.9},{"d":"2016-01-17","v":49.3},{"d":"2016-01-28","v":48.0},{"d":"2016-02-07","v":49.1},{"d":"2016-02-14","v":49.4},{"d":"2016-02-25","v":48.2},{"d":"2016-03-02","v":47.3},{"d":"2016-03-14","v":46.2},{"d":"2016-03-25","v":45.8},{"d":"2016-04-01","v":32.6},{"d":"2016-04-07","v":45.8},{"d":"2016-04-18","v":46.2},{"d":"2016-05-09","v":46.7},{"d":"2016-05-26","v":46.9},{"d":"2016-06-06","v":44.7},{"d":"2016-06-17","v":42.8},{"d":"2016-06-27","v":43.6},{"d":"2016-07-12","v":43.2},{"d":"2016-07-22","v":43.6},{"d":"2016-09-28","v":42.8},{"d":"2016-10-06","v":42.5},{"d":"2016-10-15","v":30.0},{"d":"2016-10-20","v":41.7},{"d":"2016-10-29","v":42.3},{"d":"2016-11-20","v":42.3},{"d":"2016-12-10","v":42.7},{"d":"2016-12-18","v":42.8},{"d":"2016-12-24","v":29.9},{"d":"2016-12-30","v":41.7},{"d":"2017-01-07","v":41.4},{"d":"2017-01-18","v":41.7},{"d":"2017-01-29","v":44.3},{"d":"2017-02-08","v":45.3},{"d":"2017-03-01","v":45.6},{"d":"2017-03-15","v":45.8},{"d":"2017-04-05","v":45.6},{"d":"2017-04-19","v":44.5},{"d":"2017-04-29","v":43.0},{"d":"2017-05-07","v":42.5},{"d":"2017-05-17","v":45.4},{"d":"2017-05-27","v":42.5},{"d":"2017-06-03","v":32.1},{"d":"2017-06-10","v":41.7},{"d":"2017-06-17","v":44.7},{"d":"2017-06-24","v":43.2},{"d":"2017-07-01","v":45.1},{"d":"2017-07-08","v":46.7},{"d":"2017-07-15","v":41.7},{"d":"2017-07-23","v":47.7},{"d":"2017-08-01","v":48.2},{"d":"2017-08-13","v":48.8},{"d":"2017-08-20","v":49.0},{"d":"2017-09-03","v":38.4},{"d":"2017-09-10","v":35.0},{"d":"2017-09-17","v":36.5},{"d":"2017-09-24","v":41.4},{"d":"2017-10-01","v":41.9},{"d":"2017-11-03","v":41.7},{"d":"2017-11-10","v":30.4},{"d":"2017-11-17","v":41.7},{"d":"2018-01-15","v":41.9},{"d":"2018-01-30","v":43.8},{"d":"2018-02-09","v":42.8},{"d":"2018-02-19","v":42.1},{"d":"2018-03-05","v":42.8},{"d":"2018-03-12","v":42.1},{"d":"2018-03-23","v":42.7},{"d":"2018-04-23","v":42.8},{"d":"2018-05-05","v":42.1},{"d":"2018-05-25","v":42.7},{"d":"2018-06-02","v":30.0},{"d":"2018-06-11","v":45.4},{"d":"2018-06-19","v":46.5},{"d":"2018-07-29","v":46.5},{"d":"2018-08-03","v":47.8},{"d":"2018-08-12","v":46.4},{"d":"2018-08-22","v":43.6},{"d":"2018-09-01","v":43.2},{"d":"2018-09-19","v":44.0},{"d":"2018-10-03","v":43.2},{"d":"2018-10-13","v":42.1},{"d":"2018-10-22","v":30.8},{"d":"2018-10-29","v":41.7},{"d":"2018-11-05","v":41.0},{"d":"2018-11-15","v":41.4},{"d":"2018-11-22","v":39.7},{"d":"2018-12-03","v":41.0},{"d":"2018-12-27","v":41.5},{"d":"2019-01-25","v":42.1},{"d":"2019-02-22","v":42.8},{"d":"2019-03-15","v":42.1},{"d":"2019-03-29","v":42.7},{"d":"2019-05-10","v":42.8},{"d":"2019-05-20","v":42.7},{"d":"2019-05-29","v":39.9},{"d":"2019-06-03","v":42.8},{"d":"2019-09-08","v":43.0},{"d":"2019-09-15","v":42.5},{"d":"2019-09-29","v":42.8},{"d":"2019-10-27","v":42.8},{"d":"2019-11-06","v":39.9},{"d":"2019-11-15","v":42.8},{"d":"2020-01-07","v":42.8},{"d":"2020-01-11","v":39.9},{"d":"2020-01-21","v":42.8},{"d":"2020-01-31","v":49.9},{"d":"2020-04-22","v":49.9},{"d":"2020-04-29","v":49.5},{"d":"2020-05-09","v":48.2},{"d":"2020-05-20","v":49.3},{"d":"2020-05-27","v":49.7},{"d":"2020-06-17","v":49.9},{"d":"2020-06-24","v":50.6},{"d":"2020-07-02","v":51.7},{"d":"2020-07-16","v":51.9},{"d":"2020-07-30","v":52.5},{"d":"2020-08-10","v":53.8},{"d":"2020-09-10","v":53.9},{"d":"2020-09-27","v":53.9}]
},
"vconcat":[
{"title":"Vare_Id = 9860","width":470,"height":488,
"encoding":{
"x":{"field":"d","type":"temporal","scale":{"domain":[{"year":2015,"month":7,"date":8,"utc":true},{"year":2020,"month":12,"date":25,"utc":true}],"nice":false},"axis":{"labels":false,"title":null,"tickCount":{"interval":"year","step":1},"grid":true}},
"y":{"field":"v","type":"quantitative","scale":{"domain":[26.93,81.37],"nice":false,"zero":false},"axis":{"title":"Price_mean","values":[30,40,50,60,70,80],"labelPadding":7,"titlePadding":2}}},
"layer":[
{"data":{"name":"k9860"},"mark":{"type":"line","strokeWidth":1.3},"encoding":{"color":{"datum":"KIWI NORGE AS","type":"nominal","title":"Kjedeprofil","scale":{"domain":["KIWI NORGE AS","MENY","SPAR BUTIKKENE"],"range":["#4C72B0","#DD8452","#55A868"]}}}},
{"data":{"name":"m9860"},"mark":{"type":"line","strokeWidth":1.3},"encoding":{"color":{"datum":"MENY","type":"nominal","title":"Kjedeprofil"}}},
{"data":{"name":"s9860"},"mark":{"type":"line","strokeWidth":1.3},"encoding":{"color":{"datum":"SPAR BUTIKKENE","type":"nominal","title":"Kjedeprofil"}}}
]},
{"title":"Vare_Id = 9897","width":470,"height":488,
"encoding":{
"x":{"field":"d","type":"temporal","scale":{"domain":[{"year":2015,"month":7,"date":8,"utc":true},{"year":2020,"month":12,"date":25,"utc":true}],"nice":false},"axis":{"labels":false,"title":null,"tickCount":{"interval":"year","step":1},"grid":true}},
"y":{"field":"v","type":"quantitative","scale":{"domain":[26.93,81.37],"nice":false,"zero":false},"axis":{"title":"Price_mean","values":[30,40,50,60,70,80],"labelPadding":7,"titlePadding":2}}},
"layer":[
{"data":{"name":"k9897"},"mark":{"type":"line","strokeWidth":1.3},"encoding":{"color":{"datum":"KIWI NORGE AS","type":"nominal","title":"Kjedeprofil"}}},
{"data":{"name":"m9897"},"mark":{"type":"line","strokeWidth":1.3},"encoding":{"color":{"datum":"MENY","type":"nominal","title":"Kjedeprofil"}}},
{"data":{"name":"s9897"},"mark":{"type":"line","strokeWidth":1.3},"encoding":{"color":{"datum":"SPAR BUTIKKENE","type":"nominal","title":"Kjedeprofil"}}}
]},
{"title":"Vare_Id = 9898","width":470,"height":488,
"encoding":{
"x":{"field":"d","type":"temporal","scale":{"domain":[{"year":2015,"month":7,"date":8,"utc":true},{"year":2020,"month":12,"date":25,"utc":true}],"nice":false},"axis":{"format":"%Y","title":"Ukedato","tickCount":{"interval":"year","step":1},"grid":true,"labelPadding":4,"titlePadding":1}},
"y":{"field":"v","type":"quantitative","scale":{"domain":[26.93,81.37],"nice":false,"zero":false},"axis":{"title":"Price_mean","values":[30,40,50,60,70,80],"labelPadding":7,"titlePadding":2}}},
"layer":[
{"data":{"name":"k9898"},"mark":{"type":"line","strokeWidth":1.3},"encoding":{"color":{"datum":"KIWI NORGE AS","type":"nominal","title":"Kjedeprofil"}}},
{"data":{"name":"m9898"},"mark":{"type":"line","strokeWidth":1.3},"encoding":{"color":{"datum":"MENY","type":"nominal","title":"Kjedeprofil"}}},
{"data":{"name":"s9898"},"mark":{"type":"line","strokeWidth":1.3},"encoding":{"color":{"datum":"SPAR BUTIKKENE","type":"nominal","title":"Kjedeprofil"}}}
]}
]
}
